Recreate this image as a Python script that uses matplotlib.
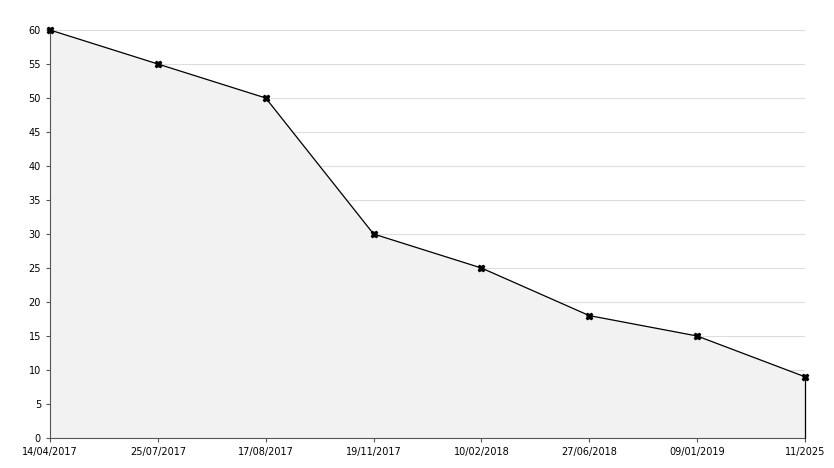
import matplotlib
matplotlib.use("Agg")
import matplotlib.pyplot as plt

dates = ["14/04/2017", "25/07/2017", "17/08/2017", "19/11/2017",
         "10/02/2018", "27/06/2018", "09/01/2019", "11/2025"]
values = [60, 55, 50, 30, 25, 18, 15, 9]

fig = plt.figure(figsize=(8.34, 4.68), dpi=100)
ax = fig.add_axes([50 / 834, 30 / 468, 755 / 834, 408 / 468])

x = list(range(len(dates)))
ax.fill_between(x, values, 0, color="#f2f2f2", zorder=1)
ax.plot(x, values, color="black", lw=0.9, zorder=3, clip_on=False)
ax.plot(x, values, ls="none", marker="X", ms=5, color="black", zorder=4, clip_on=False)
ax.vlines(x[-1], 0, values[-1], color="black", lw=0.9, zorder=5, clip_on=False)

ax.set_xlim(0, len(dates) - 1)
ax.set_ylim(0, 60)
ax.set_yticks(range(0, 61, 5))
ax.set_xticks(x)
ax.set_xticklabels(dates)
ax.grid(axis="y", color="#dddddd", lw=0.8, zorder=0)
ax.set_axisbelow(True)
for s in ["top", "right"]:
    ax.spines[s].set_visible(False)
for s in ["left", "bottom"]:
    ax.spines[s].set_color("#555555")
ax.tick_params(labelsize=7, length=3, color="#555555")

fig.savefig("out.png", dpi=100)
